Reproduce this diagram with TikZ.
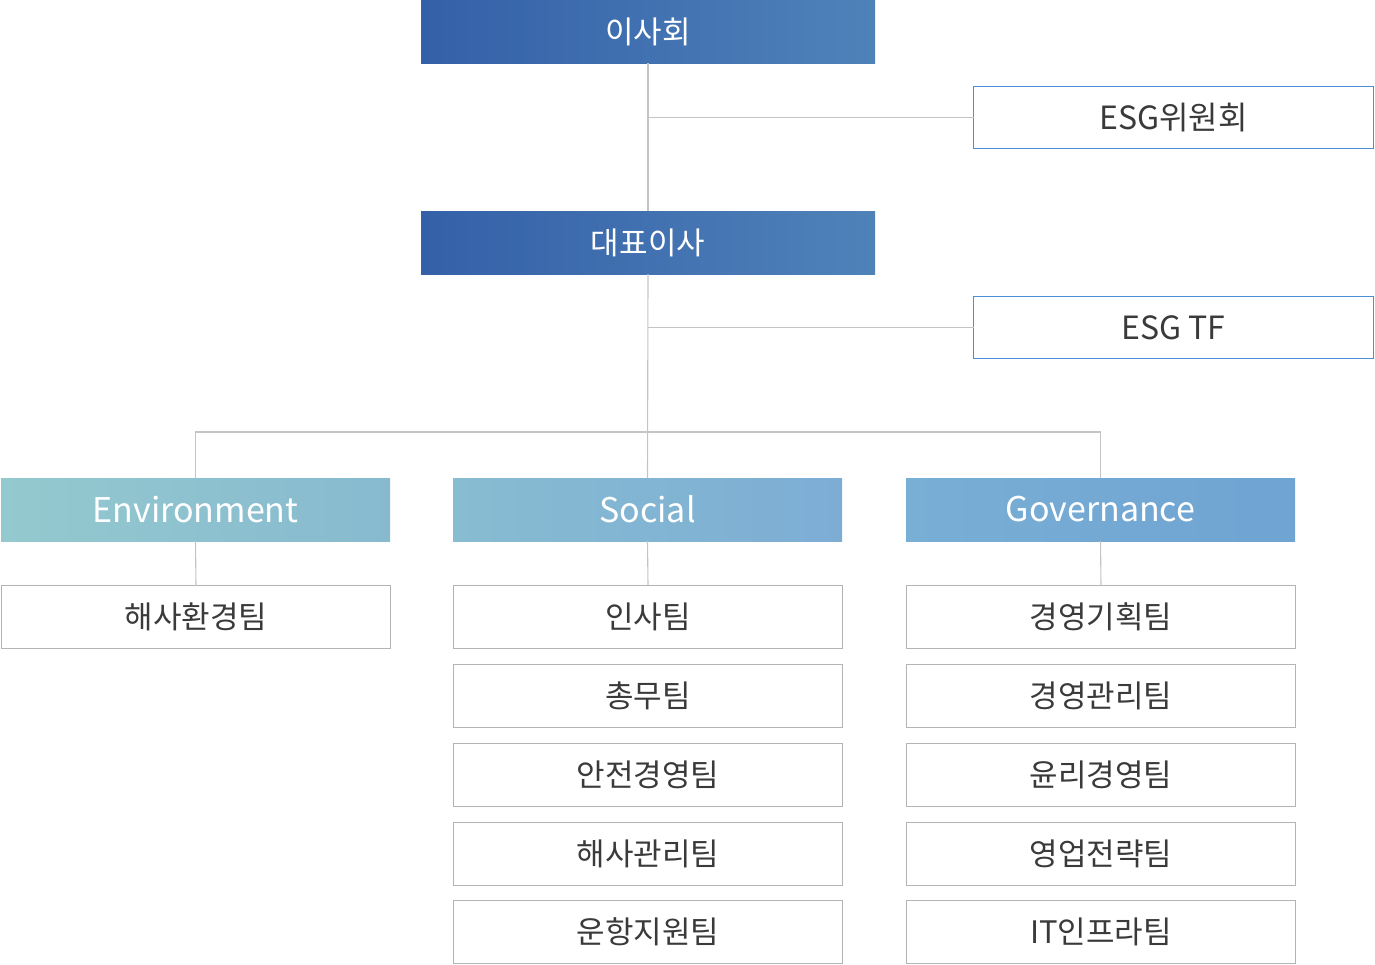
\documentclass[tikz,border=0pt]{standalone}
\usepackage{fontspec}
\setmainfont{Noto Sans CJK KR}
\usetikzlibrary{calc}
\definecolor{topL}{HTML}{3460A8}
\definecolor{topR}{HTML}{4F82B9}
\definecolor{envL}{HTML}{94C9CF}
\definecolor{envR}{HTML}{87BACF}
\definecolor{socL}{HTML}{87BCD1}
\definecolor{socR}{HTML}{7DADD5}
\definecolor{govL}{HTML}{79AED5}
\definecolor{govR}{HTML}{6FA4D3}
\definecolor{linegray}{HTML}{C4C4C4}
\definecolor{boxgray}{HTML}{B4B4B4}
\definecolor{esgblue}{HTML}{4A90D9}
\definecolor{txt}{HTML}{3A3A3A}
\tikzset{
  base/.style={anchor=north west, inner sep=0pt, outer sep=0pt},
  topbox/.style={base, minimum width=454pt, minimum height=63pt, left color=topL, right color=topR, text=white, font=\fontsize{31}{33}\selectfont},
  esgbox/.style={base, minimum width=400pt, minimum height=62pt, draw=esgblue, line width=1.3pt, fill=white, text=txt, font=\fontsize{32}{34}\selectfont},
  catbox/.style={base, minimum width=389pt, minimum height=63pt, text=white, font=\fontsize{34}{36}\selectfont},
  teambox/.style={base, minimum width=389pt, minimum height=63pt, draw=boxgray, line width=1.2pt, fill=white, text=txt, font=\fontsize{31}{33}\selectfont},
  conn/.style={draw=linegray, line width=1.1pt}
}
\begin{document}
\begin{tikzpicture}[x=1pt,y=-1pt]
\useasboundingbox (0,0) rectangle (1375,964);
% nodes
\node[topbox] (board) at (421,0) {이사회};
\node[esgbox] (esg1) at (973.5,86.5) {ESG위원회};
\node[topbox] (ceo) at (421,211) {대표이사};
\node[esgbox] (esg2) at (973.5,296.5) {ESG TF};
\node[catbox, left color=envL, right color=envR] (env) at (1,478) {Environment};
\node[catbox, left color=socL, right color=socR] (soc) at (453,478) {Social};
\node[catbox, left color=govL, right color=govR] (gov) at (906,478) {Governance};
\node[teambox] (e1) at (1.5,585.5) {해사환경팀};
\node[teambox] (s1) at (453.5,585.5) {인사팀};
\node[teambox] (s2) at (453.5,664.5) {총무팀};
\node[teambox] (s3) at (453.5,743.5) {안전경영팀};
\node[teambox] (s4) at (453.5,822.5) {해사관리팀};
\node[teambox] (s5) at (453.5,900.5) {운항지원팀};
\node[teambox] (g1) at (906.5,585.5) {경영기획팀};
\node[teambox] (g2) at (906.5,664.5) {경영관리팀};
\node[teambox] (g3) at (906.5,743.5) {윤리경영팀};
\node[teambox] (g4) at (906.5,822.5) {영업전략팀};
\node[teambox] (g5) at (906.5,900.5) {IT인프라팀};
% junctions
\coordinate (j1) at (board.south |- esg1.west);
\coordinate (j2) at (ceo.south |- esg2.west);
\coordinate (busL) at (env.north |- 0,432);
\coordinate (busR) at (gov.north |- 0,432);
% connectors
\draw[conn] (board.south) -- (ceo.north);
\draw[conn] (j1) -- (esg1.west);
\draw[conn] (ceo.south) -- (soc.north);
\draw[conn] (j2) -- (esg2.west);
\draw[conn] (env.north) -- (busL) -- (busR) -- (gov.north);
\draw[conn] (env.south) -- (e1.north);
\draw[conn] (soc.south) -- (s1.north);
\draw[conn] (gov.south) -- (g1.north);
\end{tikzpicture}
\end{document}
